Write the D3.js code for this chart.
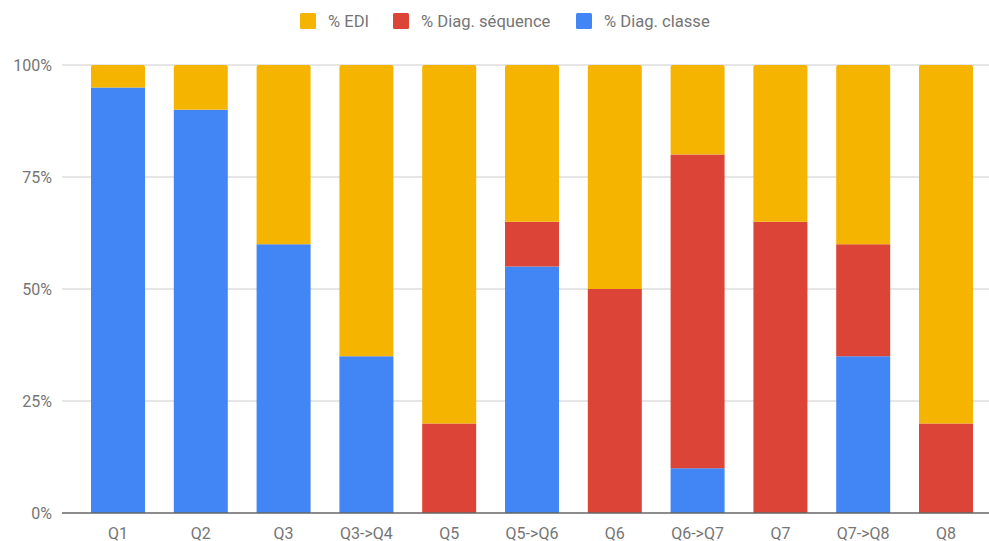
<!DOCTYPE html>
<html><head><meta charset="utf-8">
<script src="https://cdn.jsdelivr.net/npm/d3@7"></script>
<style>body{margin:0;background:#fff}svg{display:block;font-family:Roboto,sans-serif}</style>
</head><body><svg id="c" width="989" height="541"></svg>
<script>
const categories = ["Q1","Q2","Q3","Q3->Q4","Q5","Q5->Q6","Q6","Q6->Q7","Q7","Q7->Q8","Q8"];
const diagClasse = [95,90,60,35,0,55,0,10,0,35,0];
const diagSequence = [0,0,0,0,20,10,50,70,65,25,20];
const edi = [5,10,40,65,80,35,50,20,35,40,80];
const seriesNames = ["% Diag. classe","% Diag. séquence","% EDI"];
const legendOrder = ["% EDI","% Diag. séquence","% Diag. classe"];
const yTicks = [0,25,50,75,100];
const colors = {"% Diag. classe":"#4285F4","% Diag. séquence":"#DB4437","% EDI":"#F4B400"};

const svg = d3.select("#c");
const rows = categories.map((c,i)=>({cat:c,"% Diag. classe":diagClasse[i],"% Diag. séquence":diagSequence[i],"% EDI":edi[i]}));
const stack = d3.stack().keys(seriesNames)(rows);

const x = d3.scaleBand().domain(categories).range([76.6,987.4]).paddingInner(0.348).paddingOuter(0.174);
const y = d3.scaleLinear().domain([0,100]).range([513,65]);

// gridlines
svg.append("g").selectAll("line").data(yTicks.filter(d=>d>0)).join("line")
  .attr("x1",62).attr("x2",989).attr("y1",d=>y(d)).attr("y2",d=>y(d))
  .attr("stroke","#cccccc").attr("stroke-width",1);

// y labels
svg.append("g").selectAll("text").data(yTicks).join("text")
  .attr("x",52).attr("y",d=>y(d)+5.5).attr("text-anchor","end")
  .attr("font-size",16).attr("fill","#757575").text(d=>d+"%");

// bars
function topRounded(x0,y0,w,h,r){
  r=Math.min(r,h);
  return `M${x0},${y0+h}V${y0+r}Q${x0},${y0} ${x0+r},${y0}H${x0+w-r}Q${x0+w},${y0} ${x0+w},${y0+r}V${y0+h}Z`;
}
stack.forEach((layer,li)=>{
  const g = svg.append("g").attr("fill",colors[layer.key]);
  layer.forEach((d,i)=>{
    if(d[1]-d[0]<=0) return;
    const x0=x(categories[i]), w=x.bandwidth(), y0=y(d[1]), h=y(d[0])-y(d[1]);
    const isTop = d[1]>=100;
    g.append("path").attr("d", isTop? topRounded(x0,y0,w,h,2) : `M${x0},${y0}h${w}v${h}h${-w}Z`);
  });
});

// baseline
svg.append("line").attr("x1",62).attr("x2",989).attr("y1",y(0)).attr("y2",y(0))
  .attr("stroke","#666666").attr("stroke-width",1.5);

// x labels
svg.append("g").selectAll("text").data(categories).join("text")
  .attr("x",d=>x(d)+x.bandwidth()/2).attr("y",539).attr("text-anchor","middle")
  .attr("font-size",16).attr("fill","#757575").text(d=>d);

// legend
const legX = [300,393,576];
const lg = svg.append("g");
legendOrder.forEach((k,i)=>{
  lg.append("rect").attr("x",legX[i]).attr("y",13).attr("width",16).attr("height",16).attr("rx",1.5).attr("fill",colors[k]);
  lg.append("text").attr("x",legX[i]+28).attr("y",27).attr("font-size",16.6).attr("fill","#757575").text(k);
});
</script></body></html>
